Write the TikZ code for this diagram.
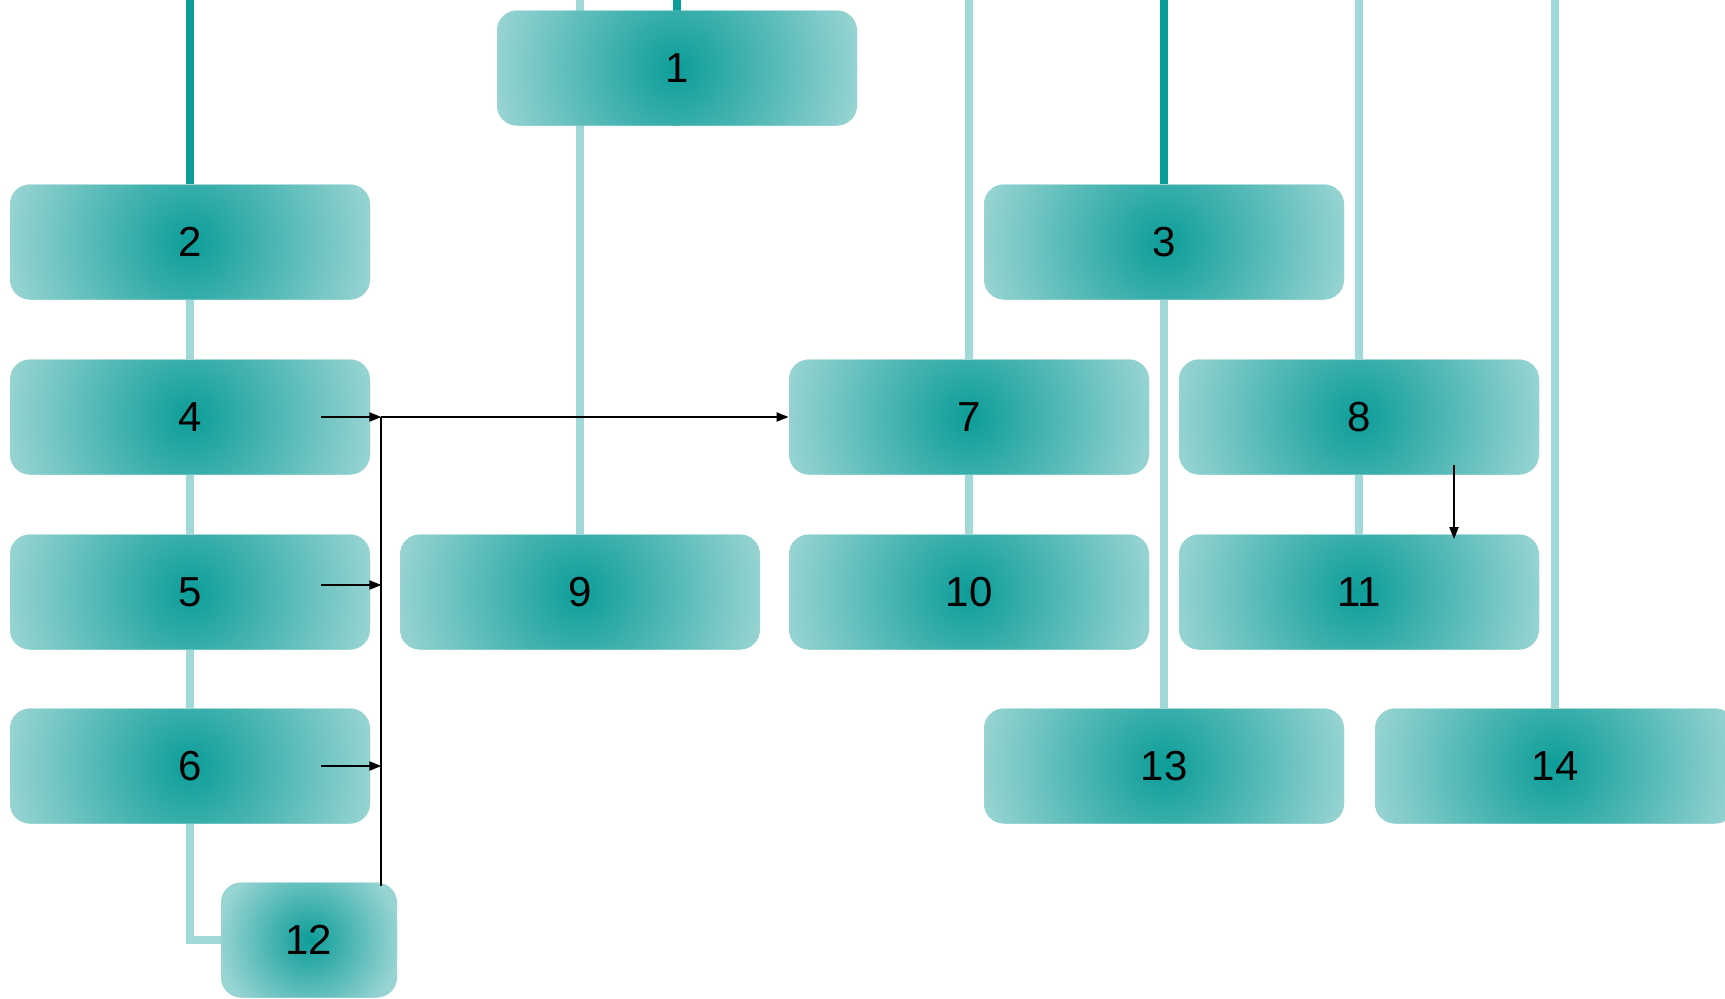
\documentclass[tikz,border=0pt]{standalone}
\usepackage{fontspec}
\setsansfont{Liberation Sans}
\usetikzlibrary{arrows.meta, backgrounds}
\definecolor{tealdeep}{HTML}{0D9D99}
\definecolor{tealpale}{HTML}{97D4D2}
\definecolor{tealline}{HTML}{A0D9D8}
\tikzset{
  box/.style  ={rounded corners=10pt, minimum width=180pt, minimum height=57.5pt, inner sep=0pt,
                fill=tealpale, font=\sffamily\fontsize{21}{25}\selectfont,
                path picture={\shade[inner color=tealdeep, outer color=tealpale]
                  (path picture bounding box.center) circle[radius=#1];}},
  box/.default=92pt,
  trunk/.style={line width=3.8pt, tealdeep},
  twig/.style ={line width=3.9pt, tealline},
  flow/.style ={-{Triangle[length=6pt,width=4.5pt]}, line width=1pt},
  wire/.style ={line width=1pt},
}
\begin{document}
\begin{tikzpicture}[x=0.5pt, y=-0.5pt]
  \useasboundingbox (0,0) rectangle (1725,998);
  \node[box] (n1)  at (677,68)   {1};
  \node[box] (n2)  at (190,242)  {2};
  \node[box] (n3)  at (1164,242) {3};
  \node[box] (n4)  at (190,417)  {4};
  \node[box] (n7)  at (969,417)  {7};
  \node[box] (n8)  at (1359,417) {8};
  \node[box] (n5)  at (190,592)  {5};
  \node[box] (n9)  at (580,592)  {9};
  \node[box] (n10) at (969,592)  {10};
  \node[box] (n11) at (1359,592) {11};
  \node[box] (n6)  at (190,766)  {6};
  \node[box] (n13) at (1164,766) {13};
  \node[box] (n14) at (1555,766) {14};
  \node[box=45pt, minimum width=88pt] (n12) at (309,940) {12};
  % free ends on the top edge
  \foreach \c/\x in {t1/677, t2/190, t3/1164, t7/969, t8/1359, t9/580, t14/1555}
    \coordinate (\c) at (\x,0);
  \begin{scope}[on background layer]
    \draw[trunk] (t2) -- (n2.north);
    \draw[trunk] (t1) -- (n1.south);
    \draw[trunk] (t3) -- (n3.north);
    \draw[twig] (t9) -- (n9.north);
    \draw[twig] (t7) -- (n7.north);
    \draw[twig] (n7.south) -- (n10.north);
    \draw[twig] (t8) -- (n8.north);
    \draw[twig] (n8.south) -- (n11.north);
    \draw[twig] (t14) -- (n14.north);
    \draw[twig] (n3.south) -- (n13.north);
    \draw[twig] (n2.south) -- (n4.north);
    \draw[twig] (n4.south) -- (n5.north);
    \draw[twig] (n5.south) -- (n6.north);
    \draw[twig] (n6.south) |- (n12.west);
  \end{scope}
  % black feed lines
  \coordinate (bus) at ([xshift=5.5pt]n4.east);
  \draw[wire] (bus) -- ([yshift=-2pt]bus |- n12.north);
  \draw[flow] ([xshift=-24.5pt]n4.east) -- (bus);
  \draw[flow] ([xshift=-24.5pt,yshift=3.5pt]n5.east) -- ([yshift=3.5pt]bus |- n5.east);
  \draw[flow] ([xshift=-24.5pt]n6.east) -- (bus |- n6.east);
  \draw[flow] (bus) -- (n7.west);
  \draw[flow] ([xshift=47.5pt,yshift=5pt]n8.south) -- ([xshift=47.5pt,yshift=-2.5pt]n11.north);
\end{tikzpicture}
\end{document}
